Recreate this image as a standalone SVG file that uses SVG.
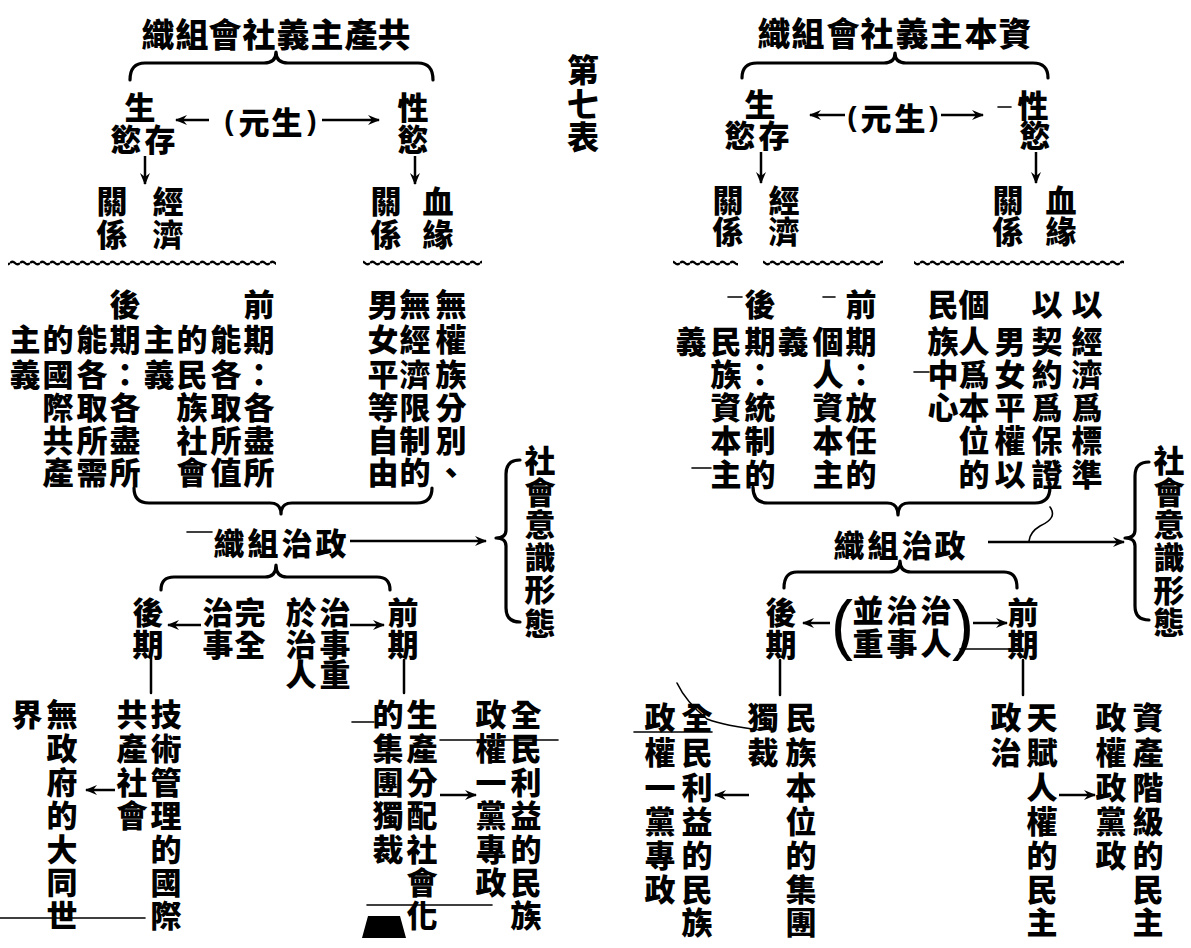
<svg xmlns="http://www.w3.org/2000/svg" width="1191" height="948" viewBox="0 0 1191 948">
<style>
.t{font-family:"Noto Sans CJK TC","Noto Sans CJK SC",sans-serif;font-weight:900;font-size:31px;text-anchor:middle;dominant-baseline:central;fill:#000}
.p{font-family:"Liberation Sans",sans-serif;font-weight:700;text-anchor:middle;dominant-baseline:central;fill:#000}
.ln{stroke:#000;stroke-width:2.5;fill:none;stroke-linecap:round}
.ar{stroke:#000;stroke-width:2.5;fill:none;marker-end:url(#ah)}
.br{stroke:#000;stroke-width:3.2;fill:none;stroke-linecap:round;stroke-linejoin:round}
.th{stroke:#000;stroke-width:1.6;fill:none;stroke-linecap:round}
</style>
<defs>
<marker id="ah" viewBox="0 0 12 10" refX="11" refY="5" markerWidth="12" markerHeight="10" markerUnits="userSpaceOnUse" orient="auto"><path d="M0 0 L12 5 L0 10 L4 5 Z" fill="#000"/></marker>
<pattern id="wave" x="0" y="259" width="10" height="8" patternUnits="userSpaceOnUse"><path d="M0 4 Q2.5 1.5 5 4 T10 4" stroke="#000" stroke-width="2.4" fill="none"/></pattern>
</defs>
<rect width="1191" height="948" fill="#fff"/>

<!-- ===== LEFT HALF ===== -->
<g id="L-title"><text class="t" style="font-size:33px" x="158 192 225 259 293 327 361 394" y="33">織組會社義主產共</text></g>
<g id="table-title"><text class="t" style="font-size:32px" x="583 583 583" y="68 102 135">第七表</text></g>
<g id="L-shengcun"><text class="t" x="140 160 126" y="105 137 137">生存慾</text></g>
<g id="L-yuansheng"><text class="p" style="font-size:28px" x="229" y="120">(</text><text class="t" x="254 287" y="120">元生</text><text class="p" style="font-size:28px" x="312" y="120">)</text></g>
<g id="L-xingyu"><text class="t" x="413 413" y="105 137">性慾</text></g>
<g id="L-jingji"><text class="t" x="168 168 112 112" y="199 232 199 232">經濟關係</text></g>
<g id="L-xueyuan"><text class="t" x="438 438 386 386" y="199 232 199 232">血緣關係</text></g>
<g id="L-wave"><rect x="8" y="259" width="268" height="8" fill="url(#wave)"/><rect x="363" y="259" width="119" height="8" fill="url(#wave)"/></g>

<g id="L-qianqi">
<text class="t" x="259 259 259 259 259 259" y="302 337 372 405 438 470">前期：各盡所</text>
<text class="t" x="226 226 226 226 226" y="337 372 405 438 470">能各取所值</text>
<text class="t" x="192 192 192 192 192" y="337 372 405 438 470">的民族社會</text>
<text class="t" x="159 159" y="337 372">主義</text>
</g>
<g id="L-houqi">
<text class="t" x="125 125 125 125 125 125" y="302 337 372 405 438 470">後期：各盡所</text>
<text class="t" x="92 92 92 92 92" y="337 372 405 438 470">能各取所需</text>
<text class="t" x="58 58 58 58 58" y="337 372 405 438 470">的國際共產</text>
<text class="t" x="25 25" y="337 372">主義</text>
</g>
<g id="L-xueyuan-text">
<text class="t" x="451 451 451 451 451 451" y="302 337 372 405 438 470">無權族分別、</text>
<text class="t" x="415 415 415 415 415 415" y="302 337 372 405 438 470">無經濟限制的</text>
<text class="t" x="383 383 383 383 383 383" y="302 337 372 405 438 470">男女平等自由</text>
</g>
<g id="L-zhengzhi"><text class="t" x="229 263 297 331" y="541">織組治政</text></g>
<g id="L-ideology"><text class="t" x="540 540 540 540 540 540" y="458 490 522 555 587 621">社會意識形態</text></g>
<g id="L-houqi2"><text class="t" x="148 148" y="610 642">後期</text></g>
<g id="L-wanquan"><text class="t" x="250 250 218 218" y="610 642 610 642">完全治事</text></g>
<g id="L-zhishi"><text class="t" x="335 335 335 301 301 301" y="610 642 672 610 642 672">治事重於治人</text></g>
<g id="L-qianqi2"><text class="t" x="403 403" y="610 642">前期</text></g>
<g id="L-datong"><text class="t" x="62 62 62 62 62 62 62 27" y="712 746 780 813 847 880 913 712">無政府的大同世界</text></g>
<g id="L-guoji"><text class="t" x="166 166 166 166 166 166 166 132 132 132 132" y="712 746 780 813 847 880 913 712 746 780 813">技術管理的國際共產社會</text></g>
<g id="L-jituan"><text class="t" x="422 422 422 422 422 422 422 388 388 388 388 388" y="712 746 780 813 847 880 913 712 746 780 813 847">生產分配社會化的集團獨裁</text></g>
<g id="L-minzu"><text class="t" x="526 526 526 526 526 526 526 491 491 491 491 491 491" y="712 746 780 813 847 880 913 712 746 780 813 847 880">全民利益的民族政權一黨專政</text></g>

<!-- ===== RIGHT HALF ===== -->
<g id="R-title"><text class="t" style="font-size:33px" x="774 808 843 877 912 946 981 1015" y="32">織組會社義主本資</text></g>
<g id="R-shengcun"><text class="t" x="760 774 740" y="102 133 133">生存慾</text></g>
<g id="R-yuansheng"><text class="p" style="font-size:28px" x="852" y="116">(</text><text class="t" x="876 910" y="116">元生</text><text class="p" style="font-size:28px" x="934" y="116">)</text></g>
<g id="R-xingyu"><text class="t" x="1033 1035" y="103 133">性慾</text></g>
<g id="R-jingji"><text class="t" x="784 784 728 728" y="198 229 198 229">經濟關係</text></g>
<g id="R-xueyuan"><text class="t" x="1061 1061 1008 1008" y="198 229 198 229">血緣關係</text></g>
<g id="R-wave"><rect x="673" y="259" width="65" height="8" fill="url(#wave)"/><rect x="763" y="259" width="120" height="8" fill="url(#wave)"/><rect x="914" y="259" width="210" height="8" fill="url(#wave)"/></g>

<g id="R-qianqi">
<text class="t" x="861 861 861 861 861 861" y="302 339 372 405 438 472">前期：放任的</text>
<text class="t" x="828 828 828 828 828" y="339 372 405 438 472">個人資本主</text>
<text class="t" x="793" y="339">義</text>
</g>
<g id="R-houqi">
<text class="t" x="760 760 760 760 760 760" y="302 339 372 405 438 472">後期：統制的</text>
<text class="t" x="726 726 726 726 726" y="339 372 405 438 472">民族資本主</text>
<text class="t" x="691" y="339">義</text>
</g>
<g id="R-qiyue">
<text class="t" x="1087 1087 1087 1087 1087 1087" y="302 339 372 405 438 472">以經濟爲標準</text>
<text class="t" x="1047 1047 1047 1047 1047 1047" y="302 339 372 405 438 472">以契約爲保證</text>
<text class="t" x="1010 1010 1010 1010 1010" y="339 372 405 438 472">男女平權以</text>
<text class="t" x="974 974 974 974 974 974" y="302 339 372 405 438 472">個人爲本位的</text>
<text class="t" x="943 943 943 943" y="302 339 372 405">民族中心</text>
</g>
<g id="R-zhengzhi"><text class="t" x="849 883 917 950" y="543">織組治政</text></g>
<g id="R-ideology"><text class="t" x="1169 1169 1169 1169 1169 1169" y="458 490 522 555 588 620">社會意識形態</text></g>
<g id="R-houqi2"><text class="t" x="781 781" y="610 642">後期</text></g>
<g id="R-bingzhong">
<text class="p" style="font-size:66px;font-weight:400" x="842" y="624">(</text>
<text class="t" x="936 936 902 902 868 868" y="608 641 608 641 608 641">治人治事並重</text>
<text class="p" style="font-size:66px;font-weight:400" x="963" y="624">)</text>
</g>
<g id="R-qianqi2"><text class="t" x="1023 1023" y="610 642">前期</text></g>
<g id="R-jituan"><text class="t" x="801 801 801 801 801 801 801 763 763" y="715 750 785 819 853 887 920 715 750">民族本位的集團獨裁</text></g>
<g id="R-minzu"><text class="t" x="697 697 697 697 697 697 697 660 660 660 660 660 660" y="715 750 785 819 853 887 920 715 750 785 819 853 887">全民利益的民族政權一黨專政</text></g>
<g id="R-tianfu"><text class="t" x="1042 1042 1042 1042 1042 1042 1042 1006 1006" y="715 750 785 819 853 887 920 715 750">天賦人權的民主政治</text></g>
<g id="R-zichan"><text class="t" x="1148 1148 1148 1148 1148 1148 1148 1111 1111 1111 1111 1111" y="715 750 785 819 853 887 920 715 750 785 819 853">資產階級的民主政權政黨政</text></g>

<!-- ===== CONNECTORS ===== -->
<g id="connectors">
<!-- braces left -->
<path class="br" d="M130 80 Q130 63 145 63 L264 63 Q276 63 276 52 Q276 63 288 63 L418 63 Q433 63 433 80"/>
<path class="br" d="M134 488 Q134 503 149 503 L270 503 Q281 503 281 514 Q281 503 292 503 L417 503 Q432 503 432 488"/>
<path class="br" d="M161 590 Q161 577 174 577 L265 577 Q276 577 276 565 Q276 577 287 577 L377 577 Q390 577 390 590"/>
<path class="br" d="M520 460 Q506 460 506 474 L506 530 Q506 538 496 538 Q506 538 506 546 L506 608 Q506 622 520 622"/>
<!-- braces right -->
<path class="br" d="M742 78 Q742 63 757 63 L884 63 Q895 63 895 53 Q895 63 906 63 L1033 63 Q1048 63 1048 78"/>
<path class="br" d="M753 487 Q753 503 768 503 L887 503 Q898 503 898 515 Q898 503 909 503 L1035 503 Q1050 503 1050 487"/>
<path class="br" d="M784 588 Q784 572 797 572 L889 572 Q900 572 900 561 Q900 572 911 572 L1004 572 Q1017 572 1017 588"/>
<path class="br" d="M1149 462 Q1135 462 1135 476 L1135 530 Q1135 538 1125 538 Q1135 538 1135 546 L1135 606 Q1135 620 1149 620"/>
<!-- arrows left -->
<line class="ar" x1="209" y1="120" x2="176" y2="120"/>
<line class="ar" x1="322" y1="120" x2="379" y2="120"/>
<line class="ar" x1="145" y1="156" x2="145" y2="184"/>
<line class="ar" x1="415" y1="156" x2="415" y2="184"/>
<line class="ar" x1="350" y1="541" x2="486" y2="541"/>
<line class="ar" x1="201" y1="625" x2="168" y2="625"/>
<line class="ar" x1="350" y1="625" x2="384" y2="625"/>
<line class="ln" x1="151" y1="658" x2="151" y2="693"/>
<line class="ln" x1="404" y1="660" x2="404" y2="693"/>
<line class="ar" x1="115" y1="790" x2="86" y2="790"/>
<line class="ar" x1="440" y1="795" x2="476" y2="795"/>
<!-- arrows right -->
<line class="ar" x1="845" y1="115" x2="810" y2="115"/>
<line class="ar" x1="941" y1="115" x2="983" y2="115"/>
<line class="ar" x1="761" y1="152" x2="761" y2="183"/>
<line class="ar" x1="1036" y1="152" x2="1036" y2="183"/>
<line class="ar" x1="988" y1="542" x2="1124" y2="542"/>
<line class="ar" x1="830" y1="623" x2="803" y2="623"/>
<line class="ar" x1="973" y1="623" x2="1007" y2="623"/>
<line class="ln" x1="780" y1="660" x2="780" y2="695"/>
<line class="ln" x1="1023" y1="660" x2="1023" y2="695"/>
<line class="ar" x1="749" y1="795" x2="715" y2="795"/>
<line class="ar" x1="1059" y1="795" x2="1095" y2="795"/>
<!-- small printed strokes -->
<line class="th" x1="187" y1="532" x2="212" y2="532"/>
<line class="th" x1="440" y1="740" x2="558" y2="740"/>
<line class="th" x1="352" y1="722" x2="374" y2="722"/>
<line class="th" x1="367" y1="905" x2="492" y2="905"/>
<line class="th" x1="0" y1="918" x2="145" y2="918"/>
<path d="M362 938 L368 916 L400 916 L406 938 Z" fill="#000"/>
<line class="th" x1="728" y1="297" x2="742" y2="297"/>
<line class="th" x1="823" y1="297" x2="835" y2="297"/>
<line class="th" x1="692" y1="468" x2="711" y2="468"/>
<line class="th" x1="914" y1="372" x2="929" y2="372"/>
<line class="th" x1="998" y1="107" x2="1011" y2="107"/>
<line class="th" x1="960" y1="649" x2="1017" y2="649"/>
<path class="th" d="M1050 507 Q1058 518 1040 526 Q1030 532 1029 541"/>
<path class="th" d="M677 683 Q686 702 707 719 Q725 726 761 730"/>
<line class="th" x1="634" y1="732" x2="712" y2="732"/>
</g>
</svg>
